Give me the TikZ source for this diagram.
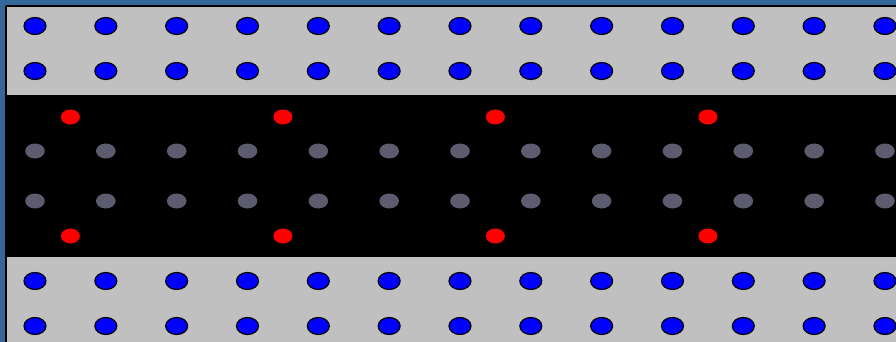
\documentclass[tikz,border=0pt]{standalone}
\definecolor{frameblue}{RGB}{51,102,153}
\definecolor{bandgray}{RGB}{192,192,192}
\definecolor{dotgray}{RGB}{92,92,110}
\begin{document}
\begin{tikzpicture}[x=1pt,y=-1pt,line join=round]
  \def\dx{70.83}
  \useasboundingbox (0,0) rectangle (896,342);
  \fill[frameblue] (0,0) rectangle (896,342);
  \fill[bandgray] (5,5) rectangle (896,342);
  \draw[line width=1.4pt] (5.9,342)--(5.9,5.9)--(896,5.9);
  \fill (6.6,95.5) rectangle (896,256.5);
  \foreach \i in {0,...,12}{
    \pgfmathsetmacro{\x}{35+\i*\dx}
    \foreach \y in {26,71,281,326}
      \draw[fill=blue,line width=1.2pt] (\x,\y) ellipse (11 and 8.5);
    \foreach \y in {151,201}
      \fill[dotgray] (\x,\y) ellipse (9.8 and 7.5);
  }
  \foreach \k in {0,...,3}{
    \pgfmathsetmacro{\x}{35+(\k*3+0.5)*\dx}
    \foreach \y in {117,236}
      \fill[red] (\x,\y) ellipse (9.5 and 7.5);
  }
\end{tikzpicture}
\end{document}
